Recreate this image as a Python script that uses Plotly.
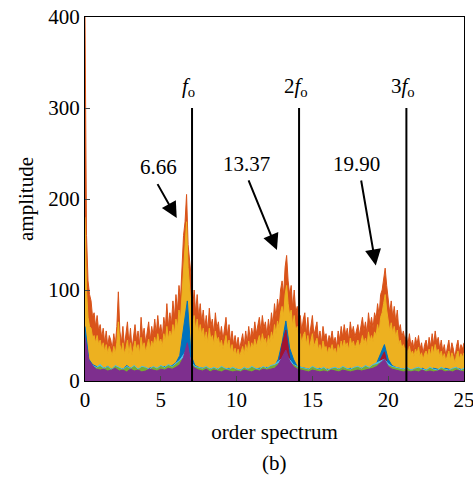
import numpy as np
import plotly.graph_objects as go

# ---------------- data ----------------
step_fine = 0.1
red_vals = [400, 160, 110, 95, 88, 70, 75, 60, 72, 55,
            62, 48, 58, 42, 55, 38, 50, 45, 35, 52,
            40, 60, 98, 55, 42, 60, 38, 50, 65, 40,
            58, 35, 48, 62, 45, 55, 40, 70, 48, 58,
            42, 52, 65, 45, 60, 50, 68, 52, 72, 55,
            62, 48, 70, 58, 85, 60, 75, 62, 88, 70,
            95, 78, 105, 90, 125, 160, 175, 205, 150, 130,
            115, 80, 100, 75, 95, 70, 85, 65, 78, 58,
            72, 55, 80, 60, 68, 52, 75, 58, 65, 48,
            60, 45, 55, 70, 50, 62, 42, 55, 40, 50,
            38, 48, 35, 45, 52, 38, 55, 42, 60, 45,
            58, 48, 65, 52, 60, 70, 55, 72, 58, 65,
            50, 68, 55, 75, 62, 85, 70, 90, 78, 100,
            110, 95, 125, 138, 110, 95, 105, 80, 100, 75,
            82, 60, 72, 55, 68, 75, 52, 70, 48, 62,
            72, 50, 58, 65, 45, 55, 42, 60, 48, 52,
            40, 50, 45, 55, 42, 48, 38, 55, 45, 60,
            48, 62, 50, 58, 45, 65, 52, 60, 48, 55,
            62, 50, 58, 70, 55, 65, 52, 75, 60, 70,
            58, 75, 68, 85, 72, 95, 100, 110, 124, 105,
            90, 75, 88, 70, 82, 65, 78, 55, 62, 48,
            55, 45, 50, 40, 52, 38, 45, 35, 48, 40,
            50, 35, 42, 30, 40, 45, 35, 48, 38, 52,
            40, 55, 42, 48, 35, 45, 32, 40, 28, 38,
            45, 30, 42, 35, 25, 38, 45, 32, 40, 35,
            42]
yellow_vals = [180, 100, 70, 60, 58, 48, 50, 42, 50, 40,
               45, 36, 42, 32, 40, 30, 38, 34, 28, 38,
               30, 42, 65, 40, 32, 42, 30, 36, 45, 30,
               42, 28, 36, 44, 34, 40, 30, 48, 36, 42,
               32, 38, 46, 34, 44, 38, 48, 40, 52, 42,
               46, 38, 52, 44, 60, 46, 55, 48, 62, 52,
               68, 58, 78, 68, 95, 125, 150, 175, 125, 100,
               85, 60, 72, 56, 68, 52, 62, 50, 58, 44,
               54, 42, 58, 45, 50, 40, 55, 44, 48, 38,
               45, 35, 42, 50, 38, 45, 32, 40, 30, 36,
               28, 35, 27, 33, 38, 29, 40, 32, 44, 34,
               42, 36, 46, 38, 44, 50, 40, 52, 43, 47,
               38, 50, 42, 54, 46, 62, 52, 66, 58, 75,
               82, 72, 95, 105, 85, 72, 78, 60, 72, 55,
               60, 45, 52, 42, 50, 54, 40, 50, 36, 45,
               52, 38, 43, 47, 34, 40, 32, 44, 36, 38,
               30, 37, 34, 40, 32, 36, 29, 40, 34, 44,
               36, 45, 38, 42, 34, 47, 39, 44, 36, 40,
               45, 38, 42, 50, 41, 47, 39, 54, 44, 50,
               43, 54, 50, 62, 53, 70, 75, 85, 95, 78,
               66, 55, 64, 52, 60, 48, 56, 41, 45, 36,
               40, 34, 37, 30, 38, 29, 33, 27, 35, 30,
               37, 27, 31, 23, 30, 33, 27, 35, 28, 38,
               30, 40, 31, 35, 27, 33, 24, 30, 22, 28,
               33, 23, 31, 26, 20, 28, 33, 24, 30, 26,
               31]

step_coarse = 0.25
blue_vals = [60, 24, 18, 16, 15, 14, 16, 13, 15, 14,
             13, 17, 14, 15, 13, 14, 13, 14, 15, 13,
             14, 16, 15, 17, 20, 28, 58, 88, 28, 17,
             15, 14, 15, 13, 14, 13, 14, 13, 14, 12,
             13, 12, 14, 13, 14, 13, 14, 14, 15, 14,
             16, 24, 42, 66, 36, 24, 16, 15, 14, 13,
             14, 13, 14, 12, 13, 12, 14, 13, 14, 13,
             14, 13, 14, 14, 15, 14, 16, 20, 30, 40,
             24, 17, 15, 14, 13, 13, 12, 13, 12, 14,
             12, 13, 14, 13, 12, 14, 13, 12, 14, 13,
             12]
maroon_vals = [10, 5, 4, 3, 4, 3, 4, 3, 5, 3,
               4, 3, 4, 3, 4, 3, 4, 3, 4, 3,
               4, 5, 4, 6, 8, 12, 22, 34, 10, 5,
               4, 3, 4, 3, 4, 3, 4, 3, 4, 3,
               4, 3, 4, 3, 4, 3, 4, 4, 5, 4,
               6, 14, 40, 56, 25, 8, 5, 4, 3, 4,
               3, 4, 3, 4, 3, 4, 3, 4, 3, 4,
               3, 4, 3, 4, 5, 4, 6, 12, 24, 32,
               14, 6, 4, 3, 4, 3, 4, 3, 4, 3,
               4, 3, 4, 3, 4, 3, 4, 3, 4, 3,
               4]
cyan_vals = [42, 21, 17, 15, 18, 14, 16, 13, 17, 15,
             13, 16, 14, 17, 13, 16, 15, 13, 16, 14,
             17, 15, 18, 16, 19, 23, 29, 35, 21, 16,
             15, 14, 16, 13, 15, 13, 16, 14, 13, 15,
             13, 12, 15, 13, 16, 14, 13, 16, 14, 17,
             18, 21, 25, 29, 23, 18, 16, 15, 14, 13,
             16, 14, 13, 15, 12, 14, 15, 13, 16, 14,
             13, 15, 16, 14, 17, 15, 18, 20, 22, 24,
             19, 16, 15, 14, 13, 15, 12, 14, 15, 13,
             12, 15, 13, 12, 15, 13, 12, 14, 15, 12,
             14]
green_vals = [32, 18, 16, 14, 16, 13, 15, 12, 16, 14,
              12, 15, 13, 16, 12, 15, 14, 12, 15, 13,
              16, 14, 17, 15, 18, 21, 25, 29, 19, 15,
              14, 13, 15, 12, 14, 12, 15, 13, 12, 14,
              12, 11, 14, 12, 15, 13, 12, 15, 13, 16,
              17, 19, 21, 23, 20, 17, 15, 14, 13, 12,
              15, 13, 12, 14, 11, 13, 14, 12, 15, 13,
              12, 14, 15, 13, 16, 14, 17, 18, 20, 21,
              17, 15, 14, 13, 12, 14, 11, 13, 14, 12,
              11, 14, 12, 11, 14, 12, 11, 13, 14, 11,
              13]
purple_vals = [48, 23, 17, 13, 12, 13, 11, 12, 14, 11,
               12, 10, 13, 11, 12, 10, 11, 13, 12, 11,
               13, 12, 14, 13, 15, 18, 26, 42, 18, 14,
               12, 11, 13, 10, 12, 11, 10, 12, 11, 10,
               11, 10, 12, 11, 10, 12, 11, 13, 12, 13,
               14, 18, 26, 34, 22, 16, 13, 12, 11, 10,
               12, 11, 10, 11, 10, 12, 11, 10, 12, 11,
               10, 11, 12, 11, 12, 13, 14, 16, 20, 24,
               16, 13, 12, 11, 10, 11, 10, 11, 10, 12,
               10, 11, 10, 11, 12, 10, 11, 10, 12, 11,
               10]

harmonic_x = [7.06, 14.12, 21.2]
harmonic_labels = ["<i>f</i><sub>o</sub>", "2<i>f</i><sub>o</sub>", "3<i>f</i><sub>o</sub>"]
harmonic_label_x = [6.85, 13.92, 21.0]
harmonic_top = 300
label_y = 323

peak_labels = ["6.66", "13.37", "19.90"]
peak_text_xy = [(4.82, 235), (10.65, 238), (17.92, 238)]
arrow_tail = [(4.73, 218), (10.75, 222), (18.2, 222)]
arrow_tip = [(6.05, 179), (12.66, 144), (19.18, 127)]

# ---------------- figure ----------------
def xs(vals, step):
    return np.round(np.arange(len(vals)) * step, 3)

series = [
    (red_vals, step_fine, "#D95319"),
    (yellow_vals, step_fine, "#EDB120"),
    (blue_vals, step_coarse, "#0072BD"),
    (maroon_vals, step_coarse, "#A2142F"),
    (cyan_vals, step_coarse, "#4DBEEE"),
    (green_vals, step_coarse, "#77AC30"),
    (purple_vals, step_coarse, "#7E2F8E"),
]

fig = go.Figure()
for vals, step, col in series:
    fig.add_trace(go.Scatter(
        x=xs(vals, step), y=vals, mode="lines",
        line=dict(color=col, width=1),
        fill="tozeroy", fillcolor=col, showlegend=False, hoverinfo="skip"))

for hx in harmonic_x:
    fig.add_trace(go.Scatter(x=[hx, hx], y=[0, harmonic_top], mode="lines",
                             line=dict(color="black", width=2),
                             showlegend=False, hoverinfo="skip"))

font = "Times New Roman, Liberation Serif, DejaVu Serif, serif"
fs = 21
ann = []
for hx, lab in zip(harmonic_label_x, harmonic_labels):
    ann.append(dict(x=hx, y=label_y, xref="x", yref="y", text=lab, showarrow=False,
                    font=dict(size=fs, color="black", family=font)))
for lab, (tx, ty) in zip(peak_labels, peak_text_xy):
    ann.append(dict(x=tx, y=ty, xref="x", yref="y", text=lab, showarrow=False,
                    font=dict(size=fs, color="black", family=font)))
for (ax_, ay_), (hx, hy) in zip(arrow_tail, arrow_tip):
    ann.append(dict(x=hx, y=hy, ax=ax_, ay=ay_, xref="x", yref="y", axref="x", ayref="y",
                    text="", showarrow=True, arrowhead=2, arrowsize=1.6, arrowwidth=2,
                    arrowcolor="black"))
ann.append(dict(x=0.5, y=-0.265, xref="paper", yref="paper", text="(b)", showarrow=False,
                font=dict(size=fs, color="black", family=font)))

fig.update_layout(
    width=473, height=479,
    margin=dict(l=85, r=9, t=17, b=98),
    plot_bgcolor="white", paper_bgcolor="white",
    font=dict(family=font, size=fs, color="black"),
    annotations=ann,
)
fig.update_xaxes(range=[0, 25], tickvals=[0, 5, 10, 15, 20, 25], ticks="inside", ticklen=5,
                 showline=True, linecolor="black", linewidth=1, mirror=True,
                 showgrid=False, zeroline=False, automargin=False,
                 ticklabeloverflow="allow",
                 tickfont=dict(size=fs, family=font),
                 title=dict(text="order spectrum", font=dict(size=fs, family=font), standoff=13))
fig.update_yaxes(range=[0, 400], tickvals=[0, 100, 200, 300, 400], ticks="inside", ticklen=5,
                 showline=True, linecolor="black", linewidth=1, mirror=True,
                 showgrid=False, zeroline=False, automargin=False,
                 ticklabeloverflow="allow",
                 tickfont=dict(size=fs, family=font),
                 title=dict(text="amplitude", font=dict(size=fs, family=font), standoff=8))

fig.write_html("out.html")
